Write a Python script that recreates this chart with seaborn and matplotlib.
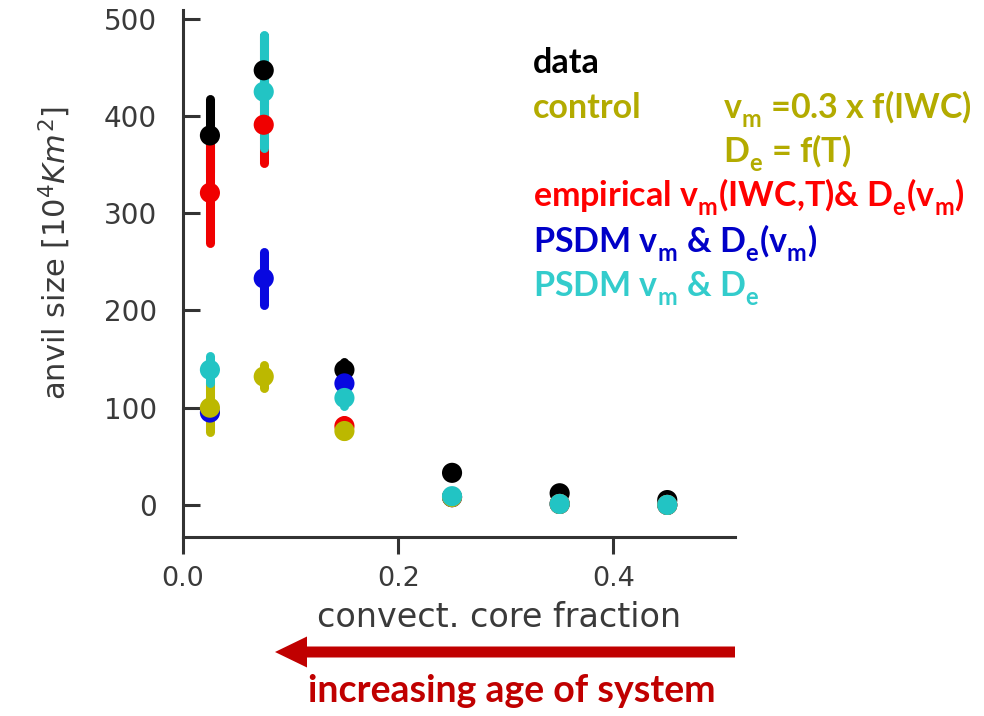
import matplotlib
matplotlib.use("Agg")
import matplotlib.pyplot as plt
from matplotlib.patches import FancyArrow
import pandas as pd
import seaborn as sns

# convective core fraction bins
core_fraction = [0.025, 0.075, 0.15, 0.25, 0.35, 0.45]

# anvil size [10^4 km^2] per bin: mean and error half-width
data_mean = [380, 447, 139, 33, 12, 5]
data_err = [38, 35, 8, 4, 3, 2]
empirical_mean = [321, 391, 81, 8, 1, 0]
empirical_err = [52, 39, 6, 2, 1, 1]
psdm_devm_mean = [95, 233, 125, 8, 1, 0]
psdm_devm_err = [8, 27, 8, 2, 1, 1]
control_mean = [100, 132, 76, 8, 1, 0]
control_err = [25, 12, 5, 2, 1, 1]
psdm_mean = [139, 425, 110, 9, 1, 0]
psdm_err = [14, 58, 8, 2, 1, 1]

series_names = ["data", "empirical", "PSDM vm & De(vm)", "control", "PSDM vm & De"]
series_means = [data_mean, empirical_mean, psdm_devm_mean, control_mean, psdm_mean]
series_errs = [data_err, empirical_err, psdm_devm_err, control_err, psdm_err]
series_colors = ["#000000", "#f00000", "#0808e0", "#bcb800", "#22c4c4"]

x_ticks = [0.0, 0.2, 0.4]
y_ticks = [0, 100, 200, 300, 400, 500]

OLIVE_TXT = "#b3ab00"
RED_TXT = "#ff0000"
BLUE_TXT = "#0000c8"
CYAN_TXT = "#33cccc"
AGE_RED = "#c00000"

rows = []
for name, means, errs in zip(series_names, series_means, series_errs):
    for xv, m, e in zip(core_fraction, means, errs):
        rows.append({"frac": xv, "size": m, "err": e, "series": name})
df = pd.DataFrame(rows)
palette = dict(zip(series_names, series_colors))

sns.set_theme(style="ticks")
plt.rcParams["font.family"] = ["DejaVu Sans"]

# lower the subscripts a little, as in slide text
try:
    import matplotlib._mathtext as _mt
    _mt.FontConstantsBase.sub1 = 0.5
    _mt.FontConstantsBase.sub2 = 0.6
except Exception:
    pass

fig = plt.figure(figsize=(9.84, 7.16), dpi=100)
ax = fig.add_axes([0.186, 0.25, 0.561, 0.736])

# error bars first, markers on top
for name in series_names:
    sub = df[df["series"] == name]
    lc = ax.vlines(sub["frac"], sub["size"] - sub["err"], sub["size"] + sub["err"],
                   colors=palette[name], linewidth=6.5, zorder=2)
    lc.set_capstyle("round")

sns.scatterplot(data=df, x="frac", y="size", hue="series", hue_order=series_names,
                palette=palette, s=210, linewidth=0, legend=False, zorder=3, ax=ax)

ax.set_xlim(0, 0.513)
ax.set_ylim(-33, 509)
ax.set_xticks(x_ticks)
ax.set_yticks(y_ticks)
ax.set_xticklabels([f"{t:.1f}" for t in x_ticks])
ax.set_yticklabels([str(t) for t in y_ticks])

sns.despine(ax=ax)
for side in ["left", "bottom"]:
    ax.spines[side].set_linewidth(2.2)
    ax.spines[side].set_color("#333333")

ax.tick_params(axis="y", direction="in", length=12, width=2.2, pad=18.7,
               labelsize=20, color="#333333", labelcolor="#3a3a3a")
ax.tick_params(axis="x", direction="out", length=12, width=2.2, pad=9,
               labelsize=19.5, color="#333333", labelcolor="#3a3a3a")

ax.set_xlabel("convect. core fraction", fontsize=24, color="#3a3a3a")
ax.xaxis.set_label_coords(0.572, -0.121)
ax.set_ylabel(r"anvil size [$10^4\mathit{Km}^2$]", fontsize=22, color="#3a3a3a")
ax.yaxis.set_label_coords(-0.20, 0.539)

# series descriptions
txt = dict(fontfamily="Lato", fontweight="bold", fontsize=24.5, va="baseline", ha="left")
W, H = 984.0, 716.0
def put(xp, yp, s, c):
    fig.text(xp / W, 1 - yp / H, s, color=c, **txt)

sub_m = r"$_\mathregular{m}$"
sub_e = r"$_\mathregular{e}$"
put(533, 73, "data", "black")
put(533, 118, "control", OLIVE_TXT)
put(723, 118, "v" + sub_m + " =0.3 x f(IWC)", OLIVE_TXT)
put(723, 163, "D" + sub_e + " = f(T)", OLIVE_TXT)
put(533, 207, "empirical v" + sub_m + "(IWC,T)& D" + sub_e + "(v" + sub_m + ")", RED_TXT)
put(533, 252, "PSDM v" + sub_m + " & D" + sub_e + "(v" + sub_m + ")", BLUE_TXT)
put(533, 297, "PSDM v" + sub_m + " & D" + sub_e, CYAN_TXT)

# age arrow
arrow = FancyArrow(735 / W, 1 - 652 / H, -(735 - 275) / W, 0,
                   width=11 / H, head_width=31 / H, head_length=32 / W,
                   length_includes_head=True, color=AGE_RED,
                   transform=fig.transFigure, linewidth=0)
fig.add_artist(arrow)
fig.text(512 / W, 1 - 691 / H, "increasing age of system", color=AGE_RED,
         fontfamily="Lato", fontweight="bold", fontsize=27, ha="center", va="center")

fig.savefig("out.png", dpi=100)
